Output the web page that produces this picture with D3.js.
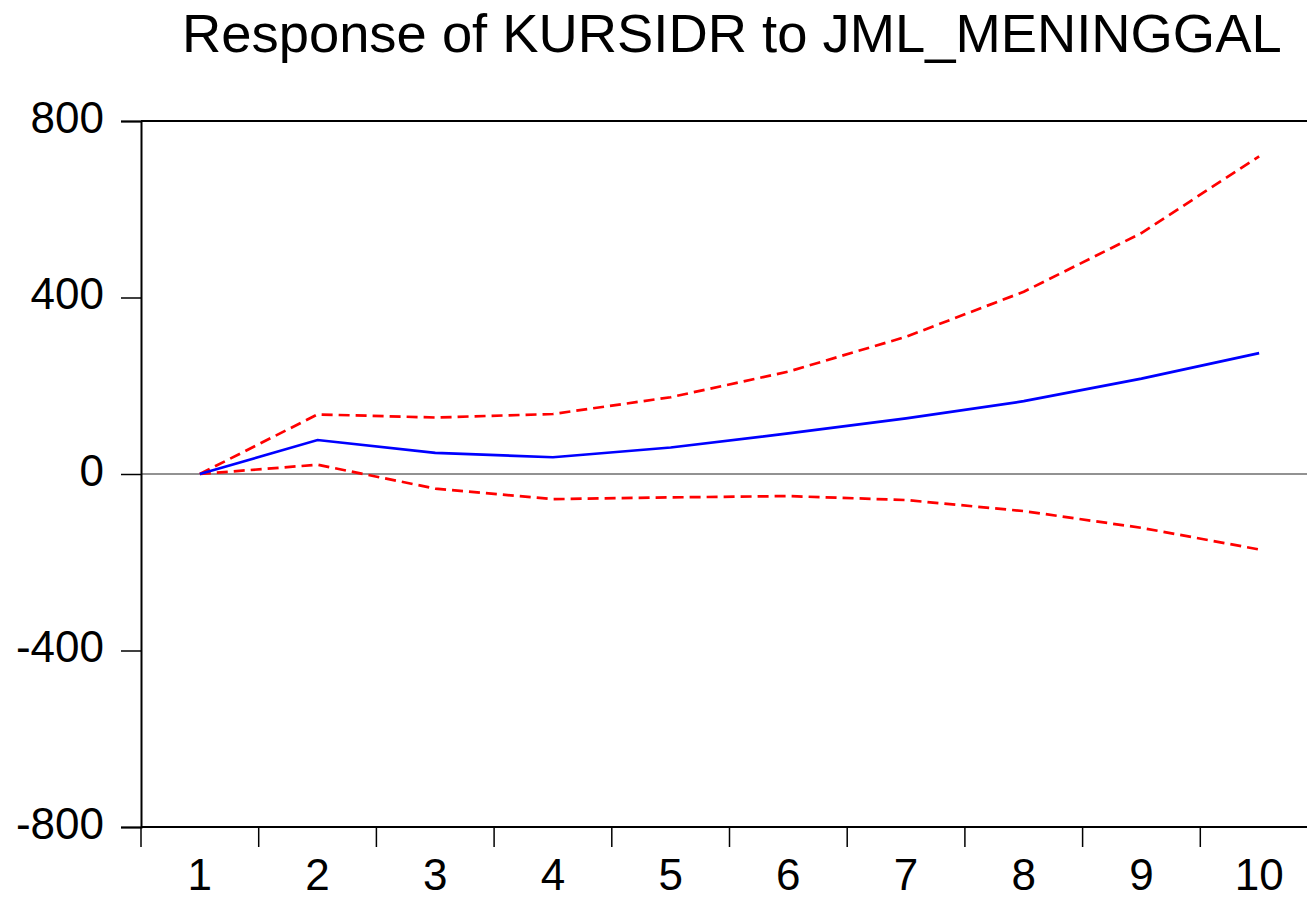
<!DOCTYPE html>
<html><head><meta charset="utf-8">
<script src="https://cdn.jsdelivr.net/npm/d3@7"></script>
<style>body{margin:0;background:#fff}svg{display:block}text{font-family:"Liberation Sans",Arial,sans-serif}</style>
</head><body>
<svg id="c" width="1307" height="897"></svg>
<script>
const periods = [1,2,3,4,5,6,7,8,9,10];
const response = [0, 77, 48, 38, 60, 92, 126, 165, 216, 274];
const upperBand = [0, 135, 128, 136, 174, 232, 311, 413, 546, 720];
const lowerBand = [0, 21, -33, -57, -53, -50, -59, -84, -122, -171];
const yTicks = [-800, -400, 0, 400, 800];
const title = "Response of KURSIDR to JML_MENINGGAL";

const svg = d3.select("#c");
const L = 141, T = 121, B = 827, bandW = 117.7;
const x = d3.scaleBand().domain(periods).range([L, L + bandW*periods.length]).padding(0);
const y = d3.scaleLinear().domain([-800, 800]).range([B, T]);
const cx = d => x(d) + x.bandwidth()/2;

// title: fit to 1100px wide
const tt = svg.append("text").attr("x", 182).attr("y", 52).attr("font-size", 100).text(title);
const natural = tt.node().getComputedTextLength();
tt.attr("font-size", 100 * 1100 / natural);

// zero line
svg.append("line").attr("x1", L).attr("x2", 1307).attr("y1", y(0)).attr("y2", y(0))
  .attr("stroke", "#6e6e6e").attr("stroke-width", 1.6);

// top border
svg.append("line").attr("x1", L).attr("x2", 1307).attr("y1", T).attr("y2", T)
  .attr("stroke", "#000").attr("stroke-width", 2);

// y axis
const ya = svg.append("g").attr("transform", `translate(${L},0)`)
  .call(d3.axisLeft(y).tickValues(yTicks).tickSize(20).tickPadding(17).tickFormat(d => String(d)));
ya.select(".domain").attr("stroke-width", 2);
ya.selectAll(".tick line").attr("stroke-width", 1.5);
ya.selectAll("text").attr("font-size", 44).attr("font-family", "Liberation Sans, Arial, sans-serif").attr("fill", "#000").attr("dy", "0.26em");

// x axis: labels
const xa = svg.append("g").attr("transform", `translate(0,${B})`)
  .call(d3.axisBottom(x).tickSize(0).tickPadding(32));
xa.select(".domain").attr("d", `M${L},0H1307`).attr("stroke-width", 2);
xa.selectAll("text").attr("font-size", 44).attr("font-family", "Liberation Sans, Arial, sans-serif").attr("fill", "#000");
// boundary ticks
svg.append("g").selectAll("line").data(periods).join("line")
  .attr("x1", d => x(d)).attr("x2", d => x(d)).attr("y1", B).attr("y2", B + 20)
  .attr("stroke", "#000").attr("stroke-width", 1.5);

const line = arr => d3.line().x((d,i) => cx(periods[i])).y(d => y(d))(arr);
svg.append("path").attr("d", line(upperBand)).attr("fill", "none").attr("stroke", "#ff0000")
  .attr("stroke-width", 2.7).attr("stroke-dasharray", "11,6");
svg.append("path").attr("d", line(lowerBand)).attr("fill", "none").attr("stroke", "#ff0000")
  .attr("stroke-width", 2.7).attr("stroke-dasharray", "11,6");
svg.append("path").attr("d", line(response)).attr("fill", "none").attr("stroke", "#0000ff")
  .attr("stroke-width", 2.7);
</script>
</body></html>
